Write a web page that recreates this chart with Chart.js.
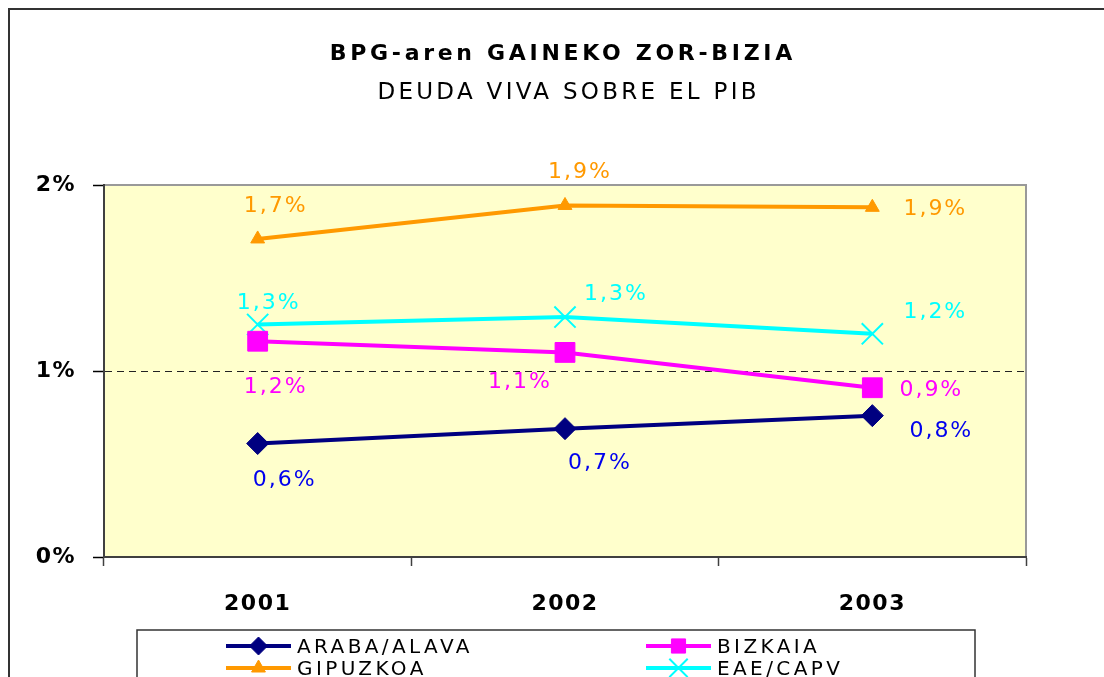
<!DOCTYPE html>
<html>
<head>
<meta charset="utf-8">
<title>BPG-aren GAINEKO ZOR-BIZIA</title>
<script src="https://cdn.jsdelivr.net/npm/chart.js@4/dist/chart.umd.min.js"></script>
<style>
  html, body { margin: 0; padding: 0; background: #fff; }
  canvas { display: block; }
</style>
</head>
<body>
<canvas id="chart" width="1104" height="677"></canvas>
<script>
// urteak / años
const years = ['2001', '2002', '2003'];

// zor-bizia BPGaren gainean (%)
const araba = [0.61, 0.69, 0.76];
const bizkaia = [1.16, 1.10, 0.91];
const gipuzkoa = [1.71, 1.89, 1.88];
const eae = [1.25, 1.29, 1.20];

const yTickValues = [0, 1, 2];

const titleText = 'BPG-aren GAINEKO ZOR-BIZIA';
const subtitleText = 'DEUDA VIVA SOBRE EL PIB';

const FONT = "'DejaVu Sans', Verdana, sans-serif";

// etiketen desplazamendua puntuarekiko (px)
const labelOffsets = [
  [[26, 34], [34, 32], [68, 13]],    // araba
  [[17, 44], [-46, 28], [58, 0]],    // bizkaia
  [[17, -35], [14, -35], [62, 0]],   // gipuzkoa
  [[10, -24], [50, -25], [62, -24]]  // eae
];

function fmt(v) {
  return v.toFixed(1).replace('.', ',') + '%';
}

// testua letra-tartearekin marraztu
function spacedText(ctx, text, x, capMid, size, spacing, align, bold) {
  ctx.save();
  ctx.font = (bold ? 'bold ' : '') + size + 'px ' + FONT;
  ctx.letterSpacing = spacing + 'px';
  ctx.textAlign = align;
  ctx.textBaseline = 'alphabetic';
  const shift = align === 'center' ? spacing / 2 : 0;
  ctx.fillText(text, x + shift, capMid + size * 0.365);
  ctx.restore();
}

const framePlugin = {
  id: 'frame',
  beforeDraw(chart) {
    const { ctx, chartArea: a } = chart;
    ctx.save();
    ctx.fillStyle = '#fff';
    ctx.fillRect(0, 0, chart.width, chart.height);
    // kanpoko markoa
    ctx.strokeStyle = '#333';
    ctx.lineWidth = 2;
    ctx.strokeRect(9, 9, 1300, 1000);
    // grafikoaren atzealdea
    ctx.fillStyle = '#FFFFCC';
    ctx.fillRect(a.left, a.top, a.right - a.left, a.bottom - a.top);
    ctx.strokeStyle = '#999';
    ctx.lineWidth = 2;
    ctx.strokeRect(a.left, a.top, a.right - a.left, a.bottom - a.top);
    ctx.restore();

    ctx.fillStyle = '#000';
    spacedText(ctx, titleText, 561, 52, 22, 3.7, 'center', true);
    spacedText(ctx, subtitleText, 567, 91, 23, 3.3, 'center', false);
    ctx.letterSpacing = '1.5px';
  },
  afterDatasetsDraw(chart) {
    const ctx = chart.ctx;
    chart.data.datasets.forEach((ds, i) => {
      const meta = chart.getDatasetMeta(i);
      meta.data.forEach((pt, j) => {
        const off = labelOffsets[i][j];
        ctx.fillStyle = ds.labelColor;
        spacedText(ctx, fmt(ds.data[j]), pt.x + off[0], pt.y + off[1], 22, 2, 'center', false);
      });
    });
  },
  afterDraw(chart) {
    const ctx = chart.ctx;
    ctx.save();
    ctx.strokeStyle = '#333';
    ctx.lineWidth = 1.5;
    ctx.strokeRect(137, 630, 838, 200);
    const cols = [226, 646];
    const rows = [646, 668];
    chart.data.datasets.forEach((ds, i) => {
      const x = cols[i % 2];
      const y = rows[Math.floor(i / 2)];
      ctx.strokeStyle = ds.borderColor;
      ctx.lineWidth = 4;
      ctx.beginPath();
      ctx.moveTo(x, y);
      ctx.lineTo(x + 65, y);
      ctx.stroke();
      ctx.fillStyle = ds.pointBackgroundColor;
      ctx.strokeStyle = ds.pointBorderColor;
      ctx.lineWidth = ds.pointBorderWidth;
      Chart.helpers.drawPoint(ctx, {
        pointStyle: ds.pointStyle,
        radius: ds.legendRadius,
        borderWidth: ds.pointBorderWidth,
        rotation: 0
      }, x + 32.5, y);
      ctx.fillStyle = '#000';
      spacedText(ctx, ds.label, x + 71, y, 20, 3.4, 'left', false);
    });
    ctx.restore();
  }
};

new Chart(document.getElementById('chart'), {
  type: 'line',
  data: {
    labels: years,
    datasets: [
      {
        label: 'ARABA/ALAVA', data: araba,
        borderColor: '#000080', labelColor: '#0000EE',
        pointStyle: 'rectRot', pointRadius: 11, legendRadius: 9,
        pointBackgroundColor: '#000080', pointBorderColor: '#000080', pointBorderWidth: 1
      },
      {
        label: 'BIZKAIA', data: bizkaia,
        borderColor: '#FF00FF', labelColor: '#FF00FF',
        pointStyle: 'rect', pointRadius: 14, legendRadius: 10,
        pointBackgroundColor: '#FF00FF', pointBorderColor: '#FF00FF', pointBorderWidth: 1
      },
      {
        label: 'GIPUZKOA', data: gipuzkoa,
        borderColor: '#FF9900', labelColor: '#FF9900',
        pointStyle: 'triangle', pointRadius: 8, legendRadius: 8,
        pointBackgroundColor: '#FF9900', pointBorderColor: '#FF9900', pointBorderWidth: 1
      },
      {
        label: 'EAE/CAPV', data: eae,
        borderColor: '#00FFFF', labelColor: '#00FFFF',
        pointStyle: 'crossRot', pointRadius: 15, legendRadius: 13,
        pointBackgroundColor: '#00FFFF', pointBorderColor: '#00FFFF', pointBorderWidth: 2
      }
    ].map(d => Object.assign({ borderWidth: 4, tension: 0, fill: false, pointHoverRadius: d.pointRadius }, d))
  },
  options: {
    responsive: false,
    animation: false,
    devicePixelRatio: 1,
    layout: { padding: { left: 0, right: 78, top: 185, bottom: 0 } },
    plugins: {
      legend: { display: false },
      title: { display: false },
      tooltip: { enabled: false }
    },
    scales: {
      x: {
        type: 'category',
        offset: true,
        grid: {
          offset: true,
          drawOnChartArea: false,
          tickLength: 9,
          tickColor: '#404040',
          tickWidth: 1.5
        },
        border: { color: '#404040', width: 2 },
        ticks: {
          color: '#000',
          padding: 25,
          font: { family: FONT, size: 22, weight: 'bold' }
        },
        afterFit(scale) { scale.height = 120; }
      },
      y: {
        min: 0,
        max: 2,
        afterBuildTicks(scale) { scale.ticks = yTickValues.map(v => ({ value: v })); },
        grid: {
          color: ctx => (ctx.tick && ctx.tick.value === 1 ? '#222' : 'rgba(0,0,0,0)'),
          lineWidth: 1,
          tickLength: 11,
          tickColor: '#000',
          tickWidth: 1.5
        },
        border: { color: '#404040', width: 2, dash: [7, 5] },
        ticks: {
          color: '#000',
          padding: 17,
          font: { family: FONT, size: 22, weight: 'bold' },
          callback: v => v + '%'
        },
        afterFit(scale) { scale.width = 104; }
      }
    }
  },
  plugins: [framePlugin]
});
</script>
</body>
</html>
